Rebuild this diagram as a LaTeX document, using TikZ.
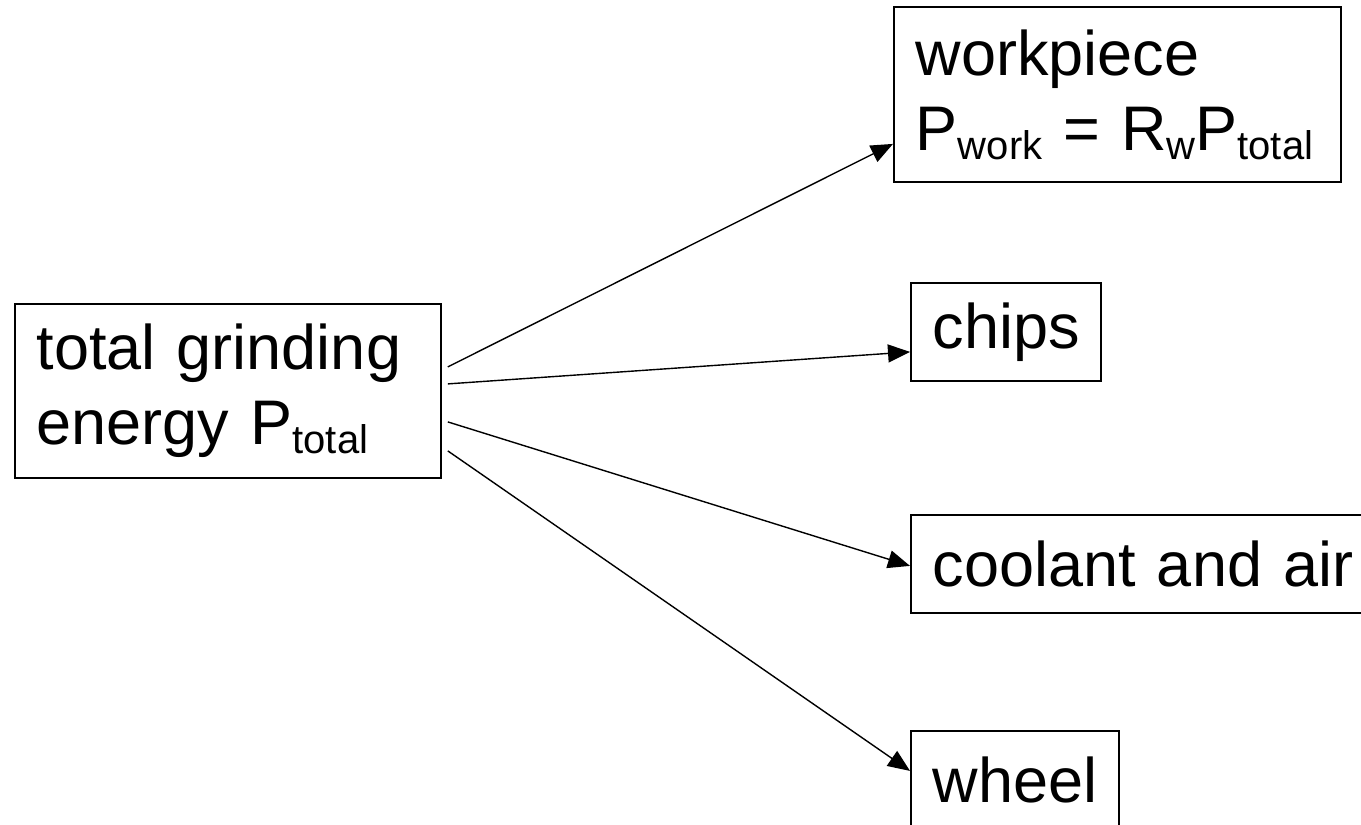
\documentclass[tikz,border=0pt]{standalone}
\usepackage{fontspec}
\setmainfont{Liberation Sans}
\usetikzlibrary{arrows.meta}

\newcommand{\subtxt}[1]{\raisebox{-4.5pt}{\fontsize{20}{20}\selectfont #1}}

\tikzset{
  energybox/.style={draw, line width=0.9pt, anchor=north west, align=left,
    inner xsep=11pt, inner ysep=0pt,
    font={\fontsize{31.5}{37.5}\selectfont}},
  flow/.style={-{Triangle[length=11pt,width=9pt]}, line width=0.7pt}
}

\begin{document}
\begin{tikzpicture}[x=0.5pt,y=-0.5pt]

\useasboundingbox (0,0) rectangle (1361,825);

% source box
\node[energybox, text width=191pt, minimum height=87pt] (total) at (14,303)
   {total grinding\\energy P\subtxt{total}};

% targets
\node[energybox, text width=201.5pt, minimum height=87.5pt] (work) at (893,6)
   {workpiece\\P\subtxt{work} = R\subtxt{w}P\subtxt{total}};
\node[energybox, text width=73pt, minimum height=49pt] (chips) at (910,282) {chips};
\node[energybox, text width=212pt, minimum height=49pt] (coolant) at (910,514) {coolant and air};
\node[energybox, text width=82pt, minimum height=49pt] (wheel) at (910,730) {wheel};

% arrows
\draw[flow] ([xshift=3pt,yshift=12pt]total.east) -- ([yshift=-24.75pt]work.west);
\draw[flow] ([xshift=3pt,yshift=3.5pt]total.east) -- ([yshift=-10pt]chips.west);
\draw[flow] ([xshift=3pt,yshift=-15.5pt]total.east) -- ([yshift=-1pt]coolant.west);
\draw[flow] ([xshift=3pt,yshift=-30pt]total.east) -- ([yshift=4.5pt]wheel.west);

\end{tikzpicture}
\end{document}
